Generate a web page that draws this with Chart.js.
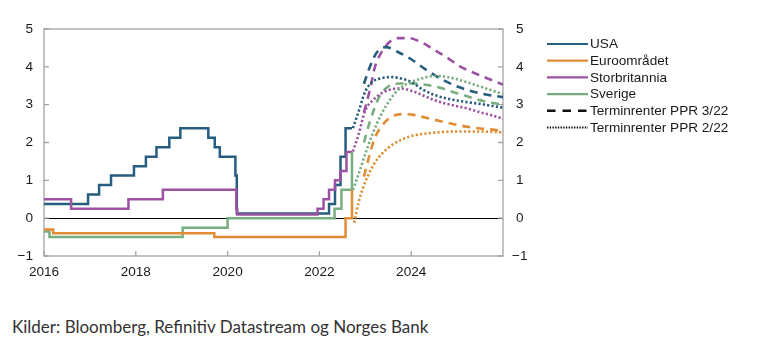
<!DOCTYPE html>
<html><head><meta charset="utf-8">
<script src="https://cdn.jsdelivr.net/npm/chart.js@4.4.0/dist/chart.umd.min.js"></script>
<style>
html,body{margin:0;padding:0;background:#fff;width:775px;height:356px;overflow:hidden;}
#wrap{position:absolute;left:0;top:0;width:775px;height:290px;}
#src{position:absolute;left:12px;top:316px;font-family:Lato,"Open Sans",sans-serif;font-size:17px;color:#333;white-space:nowrap;}
</style></head><body>
<div id="wrap"><canvas id="c" width="775" height="290"></canvas></div>
<div id="src">Kilder: Bloomberg, Refinitiv Datastream og Norges Bank</div>
<script>
// ---- Data (decimal years, percent) ----
const seriesNames = ['USA', 'Euroområdet', 'Storbritannia', 'Sverige'];
const forwardNames = ['Terminrenter PPR 3/22', 'Terminrenter PPR 2/22'];
const xTickValues = [2016, 2018, 2020, 2022, 2024];
const xTickLabels = ['2016', '2018', '2020', '2022', '2024'];
const yTickValues = [-1, 0, 1, 2, 3, 4, 5];
const yTickLabels = ['\u22121', '0', '1', '2', '3', '4', '5'];

// Policy rates (step series)
const usaDates = [2016.0, 2016.96, 2017.2, 2017.46, 2017.96, 2018.22, 2018.45, 2018.73, 2018.97, 2019.58, 2019.72, 2019.83, 2020.17, 2020.2, 2022.21, 2022.34, 2022.46, 2022.57, 2022.71];
const usaRates = [0.375, 0.625, 0.875, 1.125, 1.375, 1.625, 1.875, 2.125, 2.375, 2.125, 1.875, 1.625, 1.125, 0.125, 0.375, 0.875, 1.625, 2.375, 2.375];
const euroDates = [2016.0, 2016.2, 2019.71, 2022.57, 2022.71];
const euroRates = [-0.3, -0.4, -0.5, 0.0, 0.75];
const ukDates = [2016.0, 2016.59, 2017.84, 2018.59, 2020.19, 2020.21, 2021.96, 2022.09, 2022.21, 2022.34, 2022.46, 2022.59, 2022.71];
const ukRates = [0.5, 0.25, 0.5, 0.75, 0.25, 0.1, 0.25, 0.5, 0.75, 1.0, 1.25, 1.75, 1.75];
const sweDates = [2016.0, 2016.12, 2019.02, 2020.0, 2022.33, 2022.48, 2022.71];
const sweRates = [-0.35, -0.5, -0.25, 0.0, 0.25, 0.75, 1.75];

// Forward rates, PPR 3/22 (dashed)
const usaFwd3X = [2022.97, 2023.1, 2023.25, 2023.45, 2023.7, 2024.0, 2024.35, 2024.7, 2025.05, 2025.5, 2026.0];
const usaFwd3Y = [3.55, 4.0, 4.38, 4.52, 4.4, 4.2, 3.9, 3.65, 3.46, 3.3, 3.2];
const euroFwd3X = [2022.97, 2023.1, 2023.2, 2023.4, 2023.6, 2023.85, 2024.05, 2024.3, 2024.8, 2025.2, 2025.5, 2025.85, 2026.0];
const euroFwd3Y = [1.1, 1.7, 2.1, 2.5, 2.7, 2.75, 2.73, 2.66, 2.52, 2.42, 2.37, 2.33, 2.3];
const ukFwd3X = [2022.97, 2023.1, 2023.21, 2023.36, 2023.55, 2023.75, 2023.95, 2024.25, 2024.5, 2024.75, 2025.05, 2025.35, 2025.65, 2026.0];
const ukFwd3Y = [2.8, 3.39, 4.0, 4.4, 4.68, 4.76, 4.76, 4.63, 4.45, 4.27, 4.02, 3.85, 3.7, 3.53];
const sweFwd3X = [2022.97, 2023.1, 2023.3, 2023.5, 2023.75, 2024.0, 2024.35, 2024.65, 2025.0, 2025.25, 2025.5, 2025.75, 2026.0];
const sweFwd3Y = [2.0, 2.55, 3.2, 3.48, 3.56, 3.56, 3.52, 3.44, 3.3, 3.21, 3.12, 3.05, 3.0];

// Forward rates, PPR 2/22 (dotted)
const usaFwd2X = [2022.73, 2022.85, 2023.0, 2023.15, 2023.35, 2023.55, 2023.75, 2024.0, 2024.25, 2024.5, 2024.75, 2025.0, 2025.25, 2025.5, 2025.75, 2026.0];
const usaFwd2Y = [2.38, 2.8, 3.35, 3.6, 3.7, 3.73, 3.7, 3.6, 3.4, 3.26, 3.17, 3.11, 3.06, 3.02, 2.97, 2.92];
const euroFwd2X = [2022.76, 2022.85, 2022.95, 2023.05, 2023.2, 2023.4, 2023.6, 2023.8, 2024.0, 2024.5, 2025.0, 2025.5, 2026.0];
const euroFwd2Y = [-0.12, 0.4, 0.8, 1.1, 1.45, 1.75, 1.95, 2.08, 2.17, 2.26, 2.29, 2.29, 2.27];
const ukFwd2X = [2022.73, 2022.85, 2023.0, 2023.15, 2023.35, 2023.55, 2023.75, 2024.0, 2024.25, 2024.5, 2024.75, 2025.0, 2025.25, 2025.5, 2025.75, 2026.0];
const ukFwd2Y = [1.76, 2.2, 2.85, 3.1, 3.3, 3.4, 3.43, 3.37, 3.25, 3.12, 3.03, 2.96, 2.89, 2.8, 2.72, 2.63];
const sweFwd2X = [2022.73, 2022.85, 2023.0, 2023.15, 2023.35, 2023.55, 2023.75, 2024.0, 2024.25, 2024.5, 2024.75, 2025.0, 2025.25, 2025.5, 2025.75, 2026.0];
const sweFwd2Y = [0.75, 1.15, 1.7, 2.2, 2.75, 3.15, 3.43, 3.6, 3.7, 3.76, 3.74, 3.67, 3.58, 3.48, 3.38, 3.28];

// ---- Styles ----
const colors = ['#275d7e', '#e08d35', '#9c52a2', '#78ad80'];
const FONT = '"Liberation Sans", Arial, sans-serif';
const TEXT = '#1a1a1a';

const pts = (xs, ys) => xs.map((x, i) => ({x: x, y: ys[i]}));
const stepDs = (xs, ys, c) => ({data: pts(xs, ys), borderColor: c, borderWidth: 2.5, stepped: true, pointRadius: 0, fill: false});
const fwdDs = (xs, ys, c, dash, w) => ({data: pts(xs, ys), borderColor: c, borderWidth: w, borderDash: dash, cubicInterpolationMode: 'monotone', pointRadius: 0, fill: false, borderCapStyle: 'butt'});

const DASH = [8, 6];
const DOT = [2.2, 2.2];

const datasets = [
  fwdDs(euroFwd2X, euroFwd2Y, colors[1], DOT, 2.6),
  fwdDs(sweFwd2X, sweFwd2Y, colors[3], DOT, 2.6),
  fwdDs(ukFwd2X, ukFwd2Y, colors[2], DOT, 2.6),
  fwdDs(usaFwd2X, usaFwd2Y, colors[0], DOT, 2.6),
  fwdDs(euroFwd3X, euroFwd3Y, colors[1], DASH, 2.6),
  fwdDs(sweFwd3X, sweFwd3Y, colors[3], DASH, 2.6),
  fwdDs(usaFwd3X, usaFwd3Y, colors[0], DASH, 2.6),
  fwdDs(ukFwd3X, ukFwd3Y, colors[2], DASH, 2.6),
  stepDs(euroDates, euroRates, colors[1]),
  stepDs(sweDates, sweRates, colors[3]),
  stepDs(ukDates, ukRates, colors[2]),
  stepDs(usaDates, usaRates, colors[0])
];

const framePlugin = {
  id: 'frame',
  beforeDatasetsDraw(chart) {
    const {ctx, chartArea: a, scales} = chart;
    ctx.save();
    ctx.strokeStyle = '#a3a3a3';
    ctx.lineWidth = 1.3;
    ctx.strokeRect(a.left, a.top, a.right - a.left, a.bottom - a.top);
    ctx.beginPath();
    yTickValues.forEach(v => {
      const y = scales.y.getPixelForValue(v);
      ctx.moveTo(a.left, y); ctx.lineTo(a.left + 5, y);
      ctx.moveTo(a.right, y); ctx.lineTo(a.right - 5, y);
    });
    xTickValues.forEach(v => {
      const x = scales.x.getPixelForValue(v);
      ctx.moveTo(x, a.bottom); ctx.lineTo(x, a.bottom - 5);
    });
    ctx.stroke();
    ctx.restore();
  }
};

const legendItems = [
  {label: seriesNames[0], color: colors[0], dash: [], w: 2.2},
  {label: seriesNames[1], color: colors[1], dash: [], w: 2.2},
  {label: seriesNames[2], color: colors[2], dash: [], w: 2.2},
  {label: seriesNames[3], color: colors[3], dash: [], w: 2.2},
  {label: forwardNames[0], color: '#111', dash: [8.5, 7], w: 2.4},
  {label: forwardNames[1], color: '#111', dash: [1.4, 1.3], w: 1.8}
];

const legendPlugin = {
  id: 'customLegend',
  afterDraw(chart) {
    const ctx = chart.ctx;
    ctx.save();
    ctx.font = '13.6px ' + FONT;
    ctx.textBaseline = 'middle';
    ctx.textAlign = 'left';
    legendItems.forEach((it, i) => {
      const y = 44 + i * 16.7;
      ctx.strokeStyle = it.color;
      ctx.lineWidth = it.w;
      ctx.setLineDash(it.dash);
      ctx.beginPath(); ctx.moveTo(547, y); ctx.lineTo(588, y); ctx.stroke();
      ctx.setLineDash([]);
      ctx.fillStyle = TEXT;
      ctx.fillText(it.label, 590, y + 0.5);
    });
    ctx.restore();
  }
};

const yLabel = v => { const i = yTickValues.indexOf(v); return i >= 0 ? yTickLabels[i] : ''; };
const xLabel = v => { const i = xTickValues.indexOf(v); return i >= 0 ? xTickLabels[i] : ''; };

new Chart(document.getElementById('c'), {
  type: 'line',
  data: {datasets: datasets},
  options: {
    responsive: false,
    animation: false,
    layout: {padding: {top: 29, left: 0, right: 0, bottom: 0}},
    plugins: {legend: {display: false}, tooltip: {enabled: false}},
    elements: {line: {tension: 0}},
    scales: {
      x: {
        type: 'linear', min: 2016, max: 2026,
        afterBuildTicks: s => { s.ticks = xTickValues.map(v => ({value: v})); },
        ticks: {callback: xLabel, padding: 8, maxRotation: 0, autoSkip: false, color: TEXT, font: {family: FONT, size: 13.6}},
        grid: {display: false, drawTicks: false},
        border: {display: false},
        afterFit: s => { s.height = 34; }
      },
      y: {
        position: 'left', min: -1, max: 5,
        afterBuildTicks: s => { s.ticks = yTickValues.map(v => ({value: v})); },
        ticks: {callback: yLabel, padding: 11, color: TEXT, font: {family: FONT, size: 13.6}},
        grid: {drawTicks: false, lineWidth: 1, color: c => (c.tick && c.tick.value === 0) ? '#000' : 'rgba(0,0,0,0)'},
        border: {display: false},
        afterFit: s => { s.width = 44; }
      },
      y2: {
        position: 'right', min: -1, max: 5,
        afterBuildTicks: s => { s.ticks = yTickValues.map(v => ({value: v})); },
        ticks: {callback: yLabel, padding: 9, crossAlign: 'center', color: TEXT, font: {family: FONT, size: 13.6}},
        grid: {display: false, drawTicks: false},
        border: {display: false},
        afterFit: s => { s.width = 272; }
      }
    }
  },
  plugins: [framePlugin, legendPlugin]
});
</script>
</body></html>
